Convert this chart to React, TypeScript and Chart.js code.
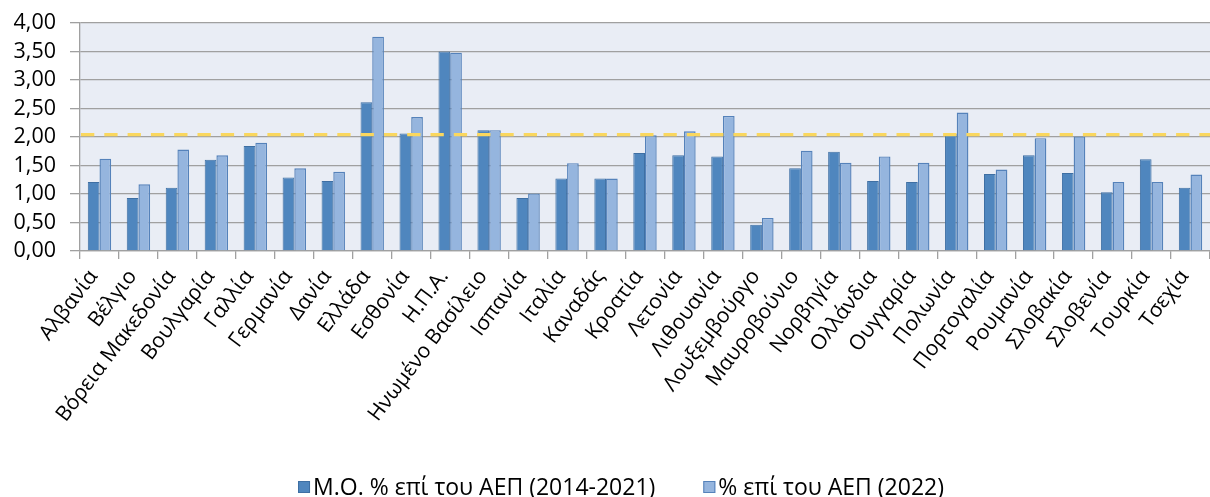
import React, { useEffect, useRef } from "react";
import { Chart, registerables } from "chart.js";

Chart.register(...registerables);

const categories: string[] = [
  "Αλβανία",
  "Βέλγιο",
  "Βόρεια Μακεδονία",
  "Βουλγαρία",
  "Γαλλία",
  "Γερμανία",
  "Δανία",
  "Ελλάδα",
  "Εσθονία",
  "Η.Π.Α.",
  "Ηνωμένο Βασίλειο",
  "Ισπανία",
  "Ιταλία",
  "Καναδάς",
  "Κροατία",
  "Λετονία",
  "Λιθουανία",
  "Λουξεμβούργο",
  "Μαυροβούνιο",
  "Νορβηγία",
  "Ολλάνδια",
  "Ουγγαρία",
  "Πολωνία",
  "Πορτογαλία",
  "Ρουμανία",
  "Σλοβακία",
  "Σλοβενία",
  "Τουρκία",
  "Τσεχία",
];

const avg2014to2021: number[] = [
  1.21, 0.93, 1.11, 1.6, 1.84, 1.29, 1.23, 2.61, 2.06, 3.5, 2.12, 0.93, 1.27,
  1.27, 1.72, 1.68, 1.66, 0.46, 1.45, 1.74, 1.23, 1.21, 2.06, 1.35, 1.68, 1.37,
  1.03, 1.61, 1.11,
];

const share2022: number[] = [
  1.62, 1.17, 1.78, 1.68, 1.9, 1.45, 1.39, 3.76, 2.35, 3.48, 2.12, 1.01, 1.54,
  1.27, 2.03, 2.1, 2.37, 0.58, 1.76, 1.55, 1.66, 1.55, 2.43, 1.43, 1.98, 2.01,
  1.21, 1.21, 1.34,
];

const seriesLabels: string[] = [
  "Μ.Ο. % επί του ΑΕΠ (2014-2021)",
  "% επί του ΑΕΠ (2022)",
];

const referenceLevel = 2.04;

const yMin = 0;
const yMax = 4;
const yStep = 0.5;

const FONT = '"Open Sans", "Noto Sans", sans-serif';

const plotBackground = {
  id: "plotBackground",
  beforeDraw(chart: any) {
    const { ctx, chartArea } = chart;
    ctx.save();
    ctx.fillStyle = "#E9EDF5";
    ctx.fillRect(
      chartArea.left,
      chartArea.top,
      chartArea.right - chartArea.left,
      chartArea.bottom - chartArea.top
    );
    ctx.restore();
  },
};

const referenceLine = {
  id: "referenceLine",
  afterDatasetsDraw(chart: any) {
    const { ctx, chartArea, scales } = chart;
    const y = scales.y.getPixelForValue(referenceLevel);
    ctx.save();
    ctx.strokeStyle = "#FAD75E";
    ctx.lineWidth = 3.3;
    ctx.setLineDash([13.3, 10]);
    ctx.beginPath();
    ctx.moveTo(chartArea.left + 1, y);
    ctx.lineTo(chartArea.right, y);
    ctx.stroke();
    ctx.restore();
  },
};

const customLegend = {
  id: "customLegend",
  afterDraw(chart: any) {
    const { ctx } = chart;
    const datasets = chart.data.datasets;
    ctx.save();
    ctx.font = `23px ${FONT}`;
    ctx.textBaseline = "middle";
    const box = 12;
    const boxGap = 3;
    const itemGap = 48;
    const widths = datasets.map((d: any) => ctx.measureText(d.label).width);
    let total = 0;
    widths.forEach((w: number, i: number) => {
      total += box + boxGap + w + (i > 0 ? itemGap : 0);
    });
    let x = 621 - total / 2;
    const cy = 487;
    datasets.forEach((d: any, i: number) => {
      ctx.fillStyle = d.backgroundColor;
      ctx.fillRect(x, cy - box / 2, box, box);
      ctx.strokeStyle = d.borderColor;
      ctx.lineWidth = 1;
      ctx.strokeRect(x + 0.5, cy - box / 2 + 0.5, box - 1, box - 1);
      ctx.fillStyle = "#000";
      ctx.fillText(d.label, x + box + boxGap, cy + 1);
      x += box + boxGap + widths[i] + itemGap;
    });
    ctx.restore();
  },
};

export default function App() {
  const canvasRef = useRef<HTMLCanvasElement | null>(null);

  useEffect(() => {
    if (!canvasRef.current) return;
    const chart = new Chart(canvasRef.current, {
      type: "bar",
      data: {
        labels: categories,
        datasets: [
          {
            label: seriesLabels[0],
            data: avg2014to2021,
            backgroundColor: "#4F86BE",
            borderColor: "#3E6FA3",
            borderWidth: 1,
            categoryPercentage: 0.6,
            barPercentage: 1.0,
          },
          {
            label: seriesLabels[1],
            data: share2022,
            backgroundColor: "#95B5DE",
            borderColor: "#5582BA",
            borderWidth: 1.4,
            categoryPercentage: 0.6,
            barPercentage: 1.0,
          },
        ],
      },
      options: {
        responsive: false,
        animation: false,
        devicePixelRatio: 1,
        layout: { padding: { top: 23, right: 0, left: 0, bottom: 0 } },
        plugins: {
          legend: { display: false },
          tooltip: { enabled: false },
        },
        scales: {
          x: {
            offset: true,
            grid: {
              offset: true,
              drawOnChartArea: false,
              drawTicks: true,
              tickLength: 8,
              color: "#A0A0A0",
              lineWidth: 1.3,
            },
            border: { display: true, color: "#A0A0A0", width: 1.3 },
            ticks: {
              autoSkip: false,
              minRotation: 53,
              maxRotation: 53,
              padding: 6,
              labelOffset: -6,
              color: "#000",
              font: { family: FONT, size: 21 },
            },
            afterFit: (s: any) => {
              s.height = 246;
              s.paddingLeft = 0;
              s.paddingRight = 0;
            },
          },
          y: {
            min: yMin,
            max: yMax,
            ticks: {
              stepSize: yStep,
              autoSkip: false,
              padding: 14,
              color: "#000",
              font: { family: FONT, size: 21.5 },
              callback: (v: any) => Number(v).toFixed(2).replace(".", ","),
            },
            grid: {
              color: "#A0A0A0",
              lineWidth: 1.3,
              drawTicks: true,
              tickLength: 10,
            },
            border: { display: true, color: "#A0A0A0", width: 1.3 },
            afterFit: (s: any) => {
              s.width = 80;
              s.paddingTop = 0;
              s.paddingBottom = 0;
            },
          },
        },
      },
      plugins: [plotBackground, referenceLine, customLegend],
    });
    return () => chart.destroy();
  }, []);

  return (
    <div style={{ position: "fixed", left: 0, top: 0, width: 1210, height: 497, background: "#fff" }}>
      <canvas ref={canvasRef} width={1210} height={497} />
    </div>
  );
}
